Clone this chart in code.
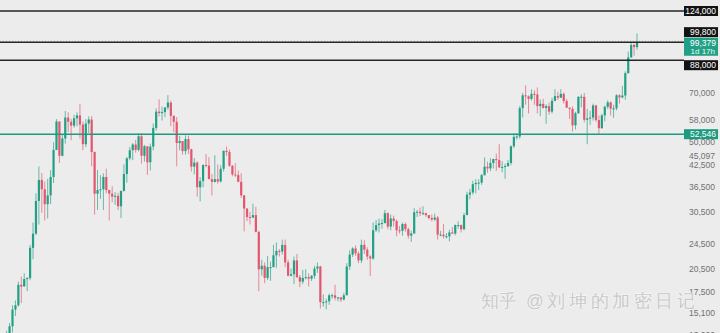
<!DOCTYPE html>
<html>
<head>
<meta charset="utf-8">
<script src="https://cdn.jsdelivr.net/npm/d3@7"></script>
<style>
  html, body { margin: 0; padding: 0; background: #ececec; }
  svg { display: block; }
  text { font-family: 'Liberation Sans', Arial, sans-serif; }
</style>
</head>
<body>
<div id="chart"></div>
<script>
// weekly candles, Oct 19 2020 -> Dec 2 2024 (USD)
const opens = [11500,13030,13780,15480,15960,18400,18180,19150,19270,23800,26270,
  33000,38200,35800,32260,34300,39000,47100,57400,45200,51000,59000,57300,55800,58700,59900,56200,49000,56600,58200,46400,34700,35600,35800,39000,35600,34700,34000,34200,31800,35400,39800,44400,47000,48900,47100,51800,45200,48300,43200,48200,54900,61500,60900,61300,63300,65500,59700,57300,49400,50100,46700,50800,
  47300,41900,43100,36300,37900,42400,42200,38400,37700,38400,37800,41300,46800,46400,42150,39700,39500,37700,34300,31300,29500,29400,29900,26600,20500,21000,19300,20800,20800,22600,23300,23200,24300,21500,19600,19800,21800,19400,18800,19300,19400,19200,19570,20600,20900,16300,16300,16400,17100,17100,16800,16850,
  16600,17100,20900,22700,23700,22900,21800,24300,23500,22400,22100,26900,27900,28200,28300,30300,27600,29200,28700,26900,26800,28100,27100,25900,26300,30500,30600,30300,30300,29900,29300,29000,29400,26100,26100,25800,25800,26500,26300,27900,27900,27100,29900,34500,35000,37100,37400,37500,39500,41900,41400,43000,
  44200,43900,41700,41800,42100,43000,48300,51600,51700,63000,68900,68400,67200,69600,69300,63900,64900,63100,63900,61500,66300,68500,67800,69600,66200,63200,62700,55900,60800,68200,68200,58100,58700,59000,64200,58000,54800,59900,63600,65600,62800,62900,68900,67900,68800,80400,89800,97900,96400]

const highs = [13350,14100,15960,16500,18800,19480,19920,19420,24300,28400,34800,
  42000,40100,37800,38500,40900,49700,58350,57500,52600,61800,61200,58400,60200,61200,64850,57500,58400,59500,59600,46600,40900,39500,40000,41300,35700,36600,35100,34900,35400,42600,44800,48100,49400,50500,52900,52900,48800,48300,49200,56600,62900,67000,63700,63500,69000,66400,59900,59200,51900,50100,52100,52000,
  47500,44500,43500,38900,42600,45800,44800,39800,45400,42600,42300,46900,48200,47200,42400,42900,40800,40000,34400,31300,30600,32400,31700,26800,21900,21500,22500,21600,24300,24700,23600,25200,25200,21900,20600,22400,22800,19700,20400,20500,19900,19700,21000,21500,21000,17200,16700,17300,17300,18400,16900,16900,
  17400,21400,23400,23900,24200,23200,25200,25100,23900,22600,28400,28900,29200,29100,31000,30500,30000,29800,29000,27700,28400,28400,27400,26800,31400,31000,31500,31800,30400,29900,30000,30200,29700,26800,28100,26400,27000,27500,28000,28600,28000,30400,35200,35900,38000,38400,38400,39800,44700,43400,44400,44300,
  45900,49000,43500,42800,43900,48600,52800,52900,64000,70100,73800,68900,71800,71300,72800,66900,67200,64700,65500,67700,71900,70600,71900,70200,67200,63300,63800,61400,68400,69400,70000,62700,61800,65000,64500,59800,60600,64100,66500,66000,64500,69400,69500,73600,81500,93500,99600,98700,106000]

const lows = [11400,12960,13200,14800,15790,16200,18180,17600,19000,22000,26000,
  28000,30400,28800,29200,32300,37400,47000,43000,45000,49200,53300,50400,55000,55500,51000,47000,48000,53000,42000,30000,31000,33500,31000,34800,28800,32700,32100,31000,29300,35200,37500,43800,43900,46200,46600,42800,43400,39600,40800,47000,53900,59500,57800,59200,62300,55600,53300,42000,47000,45600,45600,45800,
  40500,39700,34000,32900,36300,41700,39500,34300,37500,37200,37500,40500,45200,41900,39200,39000,37600,33700,26700,28700,28000,29300,26500,17600,19600,18600,19000,18900,20800,20700,22400,22700,20800,19500,19500,18500,19300,18100,18500,19100,18200,18900,19200,20000,15600,15800,15500,16000,16700,16500,16400,16300,
  16500,17100,20400,22300,22500,21400,21400,22800,21900,19550,21900,26600,26500,27200,28200,27100,26900,27600,25800,26300,25900,26600,25400,24800,26300,29500,29700,29900,29500,29000,28600,28700,25200,25800,25400,25400,24900,26200,26000,27200,26500,26900,29900,33400,34500,34800,35600,36900,39400,40200,40600,41400,
  40700,41500,40300,38500,41800,42300,47700,50600,50900,59000,64500,60700,66400,64500,60700,59600,62800,56500,60200,60700,66100,66700,67600,65000,63100,58400,53500,54300,60600,63400,57100,49000,56100,57800,57200,52500,54600,57500,62700,59800,58900,62100,65000,67500,66800,80200,89400,90800,94700]

const closes = [13030,13780,15480,15960,18400,18180,19150,19270,23800,26270,33000,
  38200,35800,32260,34300,39000,47100,57400,45200,51000,59000,57300,55800,58700,59900,56200,49000,56600,58200,46400,34700,35600,35800,39000,35600,34700,34000,34200,31800,35400,39800,44400,47000,48900,47100,51800,45200,48300,43200,48200,54900,61500,60900,61300,63300,65500,59700,57300,49400,50100,46700,50800,47300,
  41900,43100,36300,37900,42400,42200,38400,37700,38400,37800,41300,46800,46400,42150,39700,39500,37700,34300,31300,29500,29400,29900,26600,20500,21000,19300,20800,20800,22600,23300,23200,24300,21500,19600,19800,21800,19400,18800,19300,19400,19200,19570,20600,20900,16300,16300,16400,17100,17100,16800,16850,16600,
  17100,20900,22700,23700,22900,21800,24300,23500,22400,22100,26900,27900,28200,28300,30300,27600,29200,28700,26900,26800,28100,27100,25900,26300,30500,30600,30300,30300,29900,29300,29000,29400,26100,26100,25800,25800,26500,26300,27900,27900,27100,29900,34500,35000,37100,37400,37500,39500,41900,41400,43000,44200,
  43900,41700,41800,42100,43000,48300,51600,51700,63000,68900,68400,67200,69600,69300,63900,64900,63100,63900,61500,66300,68500,67800,69600,66200,63200,62700,55900,60800,68200,68200,58100,58700,59000,64200,58000,54800,59900,63600,65600,62800,62900,68900,67900,68800,80400,89800,97900,96400,99379]

const weeks = d3.timeMonday.range(new Date(2020, 9, 19), new Date(2024, 11, 3)).slice(0, closes.length)

// horizontal levels and axis labels
const resistanceLevels = [124000, 99800, 88000]
const supportLevels = [52546]
const lastPrice = 99379
const countdown = '1d 17h'
const tickValues = [70000, 58000, 50000, 42500, 36500, 30500, 24500, 20500, 17500, 15100, 13000]
const markerValues = [45097]

const width = 720
const height = 333
const plotRight = 684

const upColor = '#22a085'
const downColor = '#e2576d'

const svg = d3
  .select('#chart')
  .append('svg')
  .attr('width', width)
  .attr('height', height)

svg.append('rect')
  .attr('width', width)
  .attr('height', height)
  .attr('fill', '#ececec')

const xPositionScale = d3
  .scaleBand()
  .domain(weeks)
  .range([5.17, 638.5])
  .paddingInner(0.25)
  .paddingOuter(0.125)

const yPositionScale = d3
  .scaleLog()
  .domain([12000, 124000])
  .range([346.1, 11])

const fmt = d3.format(',')

// right price axis (plain labels)
const yAxis = d3
  .axisRight(yPositionScale)
  .tickValues(tickValues)
  .tickSize(0)
  .tickPadding(0)
  .tickFormat(fmt)

const axisG = svg
  .append('g')
  .attr('class', 'y-axis')
  .attr('transform', 'translate(715,0)')
  .call(yAxis)

axisG.select('.domain').remove()
axisG.selectAll('text')
  .attr('text-anchor', 'end')
  .attr('x', 0)
  .attr('font-size', 8.5)
  .attr('font-family', 'Liberation Sans, Arial, sans-serif')
  .attr('fill', '#707070')

// marker label with its own background (covers the tick underneath)
markerValues.forEach(v => {
  const yy = yPositionScale(v)
  svg.append('rect')
    .attr('x', 686).attr('y', yy - 5)
    .attr('width', 32).attr('height', 9)
    .attr('fill', '#ececec')
  svg.append('text')
    .text(fmt(v))
    .attr('x', 715).attr('y', yy + 3)
    .attr('text-anchor', 'end')
    .attr('font-size', 8.5)
    .attr('fill', '#707070')
})

// watermark
const wm = svg.append('g')
  .attr('font-family', "'Noto Sans CJK SC', sans-serif")
  .attr('font-size', 17.5)
  .attr('fill', '#c9c9c9')
  .attr('stroke', '#f7f7f7')
  .attr('stroke-width', 1.2)
  .attr('paint-order', 'stroke')
wm.append('text').text('知乎').attr('x', 481).attr('y', 307)
wm.append('text').text('@刘坤的加密日记').attr('x', 526).attr('y', 307).attr('letter-spacing', 3.6)

// candles
const candles = weeks.map((d, i) => ({
  week: d,
  open: opens[i],
  high: highs[i],
  low: lows[i],
  close: closes[i]
}))

const bw = xPositionScale.bandwidth()

const candleG = svg.append('g').attr('class', 'candles')

candleG
  .selectAll('line')
  .data(candles)
  .enter()
  .append('line')
  .attr('x1', d => xPositionScale(d.week) + bw / 2)
  .attr('x2', d => xPositionScale(d.week) + bw / 2)
  .attr('y1', d => yPositionScale(d.high))
  .attr('y2', d => yPositionScale(d.low))
  .attr('stroke', d => (d.close >= d.open ? upColor : downColor))
  .attr('stroke-opacity', 0.75)
  .attr('stroke-width', 0.9)

candleG
  .selectAll('rect')
  .data(candles)
  .enter()
  .append('rect')
  .attr('x', d => xPositionScale(d.week))
  .attr('width', bw)
  .attr('y', d => yPositionScale(Math.max(d.open, d.close)))
  .attr('height', d => Math.max(1, Math.abs(yPositionScale(d.open) - yPositionScale(d.close))))
  .attr('fill', d => (d.close >= d.open ? upColor : downColor))

// level lines
svg.selectAll('.res-line')
  .data(resistanceLevels)
  .enter()
  .append('line')
  .attr('class', 'res-line')
  .attr('x1', 0)
  .attr('x2', plotRight)
  .attr('y1', d => yPositionScale(d))
  .attr('y2', d => yPositionScale(d))
  .attr('stroke', '#262626')
  .attr('stroke-width', 1.5)

svg.selectAll('.sup-line')
  .data(supportLevels)
  .enter()
  .append('line')
  .attr('class', 'sup-line')
  .attr('x1', 0)
  .attr('x2', plotRight)
  .attr('y1', d => yPositionScale(d))
  .attr('y2', d => yPositionScale(d))
  .attr('stroke', '#1e9a7e')
  .attr('stroke-width', 1.4)

// current price dotted line
svg.append('line')
  .attr('x1', 0)
  .attr('x2', plotRight)
  .attr('y1', yPositionScale(lastPrice) - 1.5)
  .attr('y2', yPositionScale(lastPrice) - 1.5)
  .attr('stroke', '#555')
  .attr('stroke-width', 0.8)
  .attr('stroke-dasharray', '1,2')
  .attr('opacity', 0.6)

// price tags on the right axis (shifted where they would overlap)
const tagShift = { 124000: 0, 99800: -10, 88000: 5 }

function tag(value, fill, shift) {
  const yy = yPositionScale(value) + shift
  svg.append('rect')
    .attr('x', plotRight)
    .attr('y', yy - 5)
    .attr('width', 34)
    .attr('height', 10)
    .attr('fill', fill)
  svg.append('text')
    .text(fmt(value))
    .attr('x', 716)
    .attr('y', yy + 3)
    .attr('text-anchor', 'end')
    .attr('font-size', 8.5)
    .attr('fill', '#ffffff')
}

resistanceLevels.forEach(v => tag(v, '#131313', tagShift[v]))
supportLevels.forEach(v => tag(v, '#1e9a7e', 0))

// last price tag with countdown
const ly = yPositionScale(lastPrice)
svg.append('rect')
  .attr('x', plotRight)
  .attr('y', ly - 5)
  .attr('width', 34)
  .attr('height', 18)
  .attr('fill', '#22a085')
svg.append('text')
  .text(fmt(lastPrice))
  .attr('x', 716)
  .attr('y', ly + 3)
  .attr('text-anchor', 'end')
  .attr('font-size', 8.5)
  .attr('fill', '#ffffff')
svg.append('text')
  .text(countdown)
  .attr('x', 715)
  .attr('y', ly + 11)
  .attr('text-anchor', 'end')
  .attr('font-size', 8)
  .attr('fill', '#e8fff8')
</script>
</body>
</html>
